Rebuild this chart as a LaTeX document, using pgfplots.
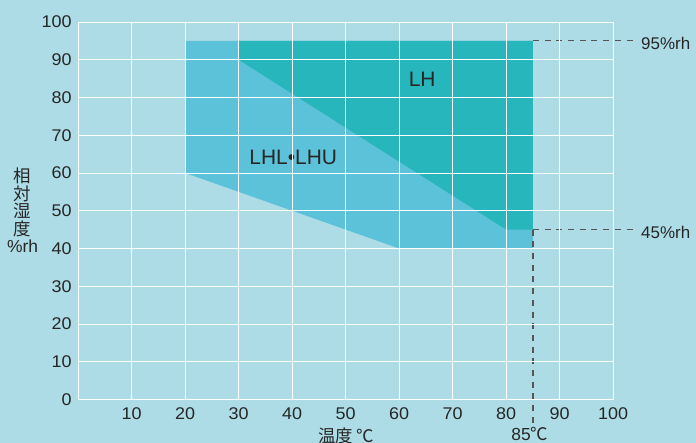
\documentclass[border=0pt]{standalone}
\usepackage{pgfplots}
\pgfplotsset{compat=1.18}
\usepackage{fontspec}
\setmainfont{Liberation Sans}
\newfontfamily\tickfont[FakeStretch=1.06]{Liberation Sans}
\newfontfamily\cjk{Noto Sans CJK JP}
\definecolor{bg}{RGB}{173,220,230}
\definecolor{lightreg}{RGB}{92,194,217}
\definecolor{darkreg}{RGB}{38,182,187}
\definecolor{txt}{RGB}{38,38,38}
\definecolor{dashc}{RGB}{85,85,85}
\begin{document}
\begin{tikzpicture}
\useasboundingbox (-78.2bp,-43.5bp) rectangle (617.8bp,399.5bp);
\fill[bg] (-78.2bp,-43.5bp) rectangle (617.8bp,399.5bp);
\begin{axis}[
  at={(0,0)}, anchor=south west,
  scale only axis, width=535bp, height=377.5bp,
  xmin=0, xmax=100, ymin=0, ymax=100,
  xtick={10,20,...,100}, ytick={0,10,...,100},
  grid=major, major grid style={white, line width=0.9pt},
  axis line style={white, line width=0.9pt},
  tick style={draw=none},
  axis on top, clip=false,
  /pgf/number format/assume math mode=true,
  ticklabel style={font=\tickfont\fontsize{17}{18}\selectfont, text=txt},
  xticklabel style={anchor=north, yshift=-4.5bp},
  yticklabel style={anchor=east, xshift=-3bp},
]
\addplot[fill=lightreg, draw=none] coordinates {(20,95) (85,95) (85,40) (60,40) (40,50) (20,60)} -- cycle;
\addplot[fill=darkreg, draw=none] coordinates {(30,95) (85,95) (85,45) (80,45) (30,90)} -- cycle;
\addplot[dashc, line width=1.2pt, dash pattern=on 6bp off 5.7bp] coordinates {(85,95) (104.4,95)};
\addplot[dashc, line width=1.2pt, dash pattern=on 6bp off 5.7bp] coordinates {(85,45) (104.4,45)};
\addplot[dashc, line width=1.2pt, dash pattern=on 6bp off 5.7bp] coordinates {(85,45) (85,-6.5)};
\node[anchor=west, text=txt, font=\fontsize{17}{18}\selectfont, inner sep=0pt] at (axis cs:105.2,94.3) {95\%rh};
\node[anchor=west, text=txt, font=\fontsize{17}{18}\selectfont, inner sep=0pt] at (axis cs:105.2,44.3) {45\%rh};
\node[text=txt, font=\fontsize{21}{22}\selectfont] at (axis cs:64.3,84.8) {LH};
\node[text=txt, font=\fontsize{21}{22}\selectfont] at (axis cs:40.2,64.2) {LHL\textbullet LHU};
\node[anchor=north, text=txt, font=\fontsize{17.5}{18}\selectfont, inner sep=0pt] at (axis cs:50.1,-7.4) {\cjk 温度 ℃};
\node[anchor=north, text=txt, font=\fontsize{17.5}{18}\selectfont, inner sep=0pt] at (axis cs:84.4,-7.4) {85\cjk{℃}};
\node[align=center, text=txt, font=\fontsize{17.5}{17.7}\selectfont, inner sep=0pt] at (axis cs:-10.4,50.1) {\cjk 相\\\cjk 対\\\cjk 湿\\\cjk 度\\\%rh};
\end{axis}
\end{tikzpicture}
\end{document}
